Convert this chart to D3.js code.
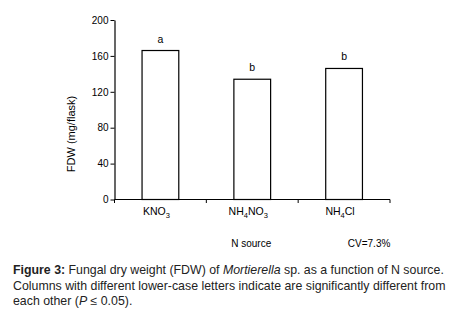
<!DOCTYPE html>
<html>
<head>
<meta charset="utf-8">
<script src="https://cdn.jsdelivr.net/npm/d3@7"></script>
<style>
  body { margin: 0; background: #fff; }
  svg { display: block; font-family: "Liberation Sans", Arial, sans-serif; }
</style>
</head>
<body>
<div id="chart"></div>
<script>
// Data
const sources = ['KNO3', 'NH4NO3', 'NH4Cl'];
const sourceLabels = [
  [['KNO', 0], ['3', 1]],
  [['NH', 0], ['4', 1], ['NO', 0], ['3', 1]],
  [['NH', 0], ['4', 1], ['Cl', 0]]
];
const fdw = [166, 134, 146];
const letters = ['a', 'b', 'b'];
const yTicks = [0, 40, 80, 120, 160, 200];

const width = 457, height = 309;
const margin = { left: 114.5, top: 20, right: 67, bottom: 109.5 };

const svg = d3.select('#chart').append('svg')
  .attr('width', width)
  .attr('height', height);

const x = d3.scaleBand()
  .domain(sources)
  .range([margin.left, width - margin.right])
  .paddingInner(0.6)
  .paddingOuter(0.3);

// category boundaries for the x ticks
const xOuter = d3.scaleLinear()
  .domain([0, sources.length])
  .range([margin.left, width - margin.right]);

const y = d3.scaleLinear()
  .domain([0, 200])
  .range([height - margin.bottom, margin.top]);

// y axis
const yAxis = svg.append('g')
  .attr('transform', `translate(${margin.left},0)`)
  .call(d3.axisLeft(y).tickValues(yTicks).tickSize(4).tickPadding(2).tickSizeOuter(0));
yAxis.select('.domain').attr('stroke', '#000').attr('stroke-width', 1.2);
yAxis.selectAll('line').attr('stroke', '#000');
yAxis.selectAll('text').attr('font-size', 10).attr('fill', '#000')
  .attr('font-family', '"Liberation Sans", Arial, sans-serif');

// x axis: baseline with ticks at category boundaries
const xg = svg.append('g');
xg.append('line')
  .attr('x1', xOuter(0)).attr('x2', xOuter(sources.length))
  .attr('y1', y(0)).attr('y2', y(0))
  .attr('stroke', '#000').attr('stroke-width', 1.2);
xg.selectAll('.xtick')
  .data(d3.range(sources.length + 1))
  .join('line')
  .attr('class', 'xtick')
  .attr('x1', d => xOuter(d)).attr('x2', d => xOuter(d))
  .attr('y1', y(0)).attr('y2', y(0) + 3.5)
  .attr('stroke', '#000');

// bars
svg.selectAll('.bar')
  .data(sources)
  .join('rect')
  .attr('class', 'bar')
  .attr('x', d => x(d))
  .attr('width', x.bandwidth())
  .attr('y', (d, i) => y(fdw[i]))
  .attr('height', (d, i) => y(0) - y(fdw[i]))
  .attr('fill', '#fff')
  .attr('stroke', '#000')
  .attr('stroke-width', 1.2);

// significance letters
svg.selectAll('.letter')
  .data(sources)
  .join('text')
  .attr('class', 'letter')
  .attr('x', d => x(d) + x.bandwidth() / 2)
  .attr('y', (d, i) => y(fdw[i]) - 8)
  .attr('text-anchor', 'middle')
  .attr('font-size', 10.5)
  .text((d, i) => letters[i]);

// category labels with subscripts
svg.selectAll('.cat')
  .data(sources)
  .join('text')
  .attr('class', 'cat')
  .attr('x', (d, i) => xOuter(i + 0.5) - 4)
  .attr('y', y(0) + 18)
  .attr('text-anchor', 'middle')
  .attr('font-size', 10.5)
  .each(function (d, i) {
    const t = d3.select(this);
    sourceLabels[i].forEach(([s, sub]) => {
      t.append('tspan')
        .attr('font-size', sub ? 7.5 : 10.5)
        .attr('dy', sub ? 2.5 : (t.selectAll('tspan').size() > 0 ? -2.5 : 0))
        .text(s);
    });
  });

// axis titles
svg.append('text')
  .attr('transform', `translate(75,134) rotate(-90)`)
  .attr('text-anchor', 'middle')
  .attr('font-size', 11)
  .text('FDW (mg/flask)');

svg.append('text')
  .attr('x', xOuter(1.5) - 1)
  .attr('y', 247)
  .attr('text-anchor', 'middle')
  .attr('font-size', 10)
  .text('N source');

svg.append('text')
  .attr('x', xOuter(2.5) + 25)
  .attr('y', 247)
  .attr('text-anchor', 'middle')
  .attr('font-size', 10)
  .text('CV=7.3%');

// caption
const cap = svg.append('g').attr('font-size', 12.35).attr('fill', '#222');
const l1 = cap.append('text').attr('x', 13).attr('y', 274);
l1.append('tspan').attr('font-weight', 'bold').text('Figure 3:');
l1.append('tspan').text(' Fungal dry weight (FDW) of ');
l1.append('tspan').attr('font-style', 'italic').text('Mortierella');
l1.append('tspan').text(' sp. as a function of N source.');
cap.append('text').attr('x', 13).attr('y', 289.5)
  .text('Columns with different lower-case letters indicate are significantly different from');
const l3 = cap.append('text').attr('x', 13).attr('y', 305);
l3.append('tspan').text('each other (');
l3.append('tspan').attr('font-style', 'italic').text('P');
l3.append('tspan').text(' ≤ 0.05).');
</script>
</body>
</html>
